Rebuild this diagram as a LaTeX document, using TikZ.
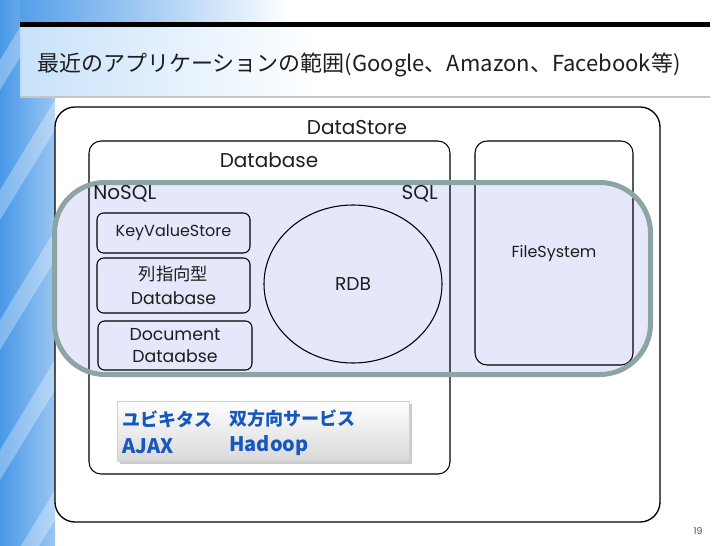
\documentclass[tikz,border=0pt]{standalone}
\usepackage{fontspec}
\setmainfont{Poppins}
\newfontfamily\cjk{Noto Sans CJK JP}
\usepackage{tikz}
\usetikzlibrary{shapes.geometric,shadows}

\definecolor{slideblue}{RGB}{72,152,232}
\definecolor{paleblue}{RGB}{196,224,250}
\definecolor{hilitefill}{RGB}{228,232,250}
\definecolor{hiliteline}{RGB}{140,164,164}
\definecolor{inkgray}{RGB}{30,30,30}
\definecolor{tagblue}{RGB}{22,88,190}

\tikzset{
  storebox/.style={draw=black, line width=1pt, rounded corners=15pt},
  dbbox/.style={draw=black, line width=0.8pt, rounded corners=9pt},
  kindbox/.style={draw=black, line width=0.8pt, rounded corners=5pt, inner sep=0pt, align=center, text=inkgray, font=\fontsize{13}{16}\selectfont},
  lbl/.style={inner sep=0.75pt, text=inkgray, font=\fontsize{15}{18}\selectfont},
  tagtext/.style={anchor=west, inner sep=0pt, text=tagblue, font=\cjk\bfseries\fontsize{13.5}{16}\selectfont},
}

\begin{document}
\begin{tikzpicture}[x=0.75pt,y=0.75pt,yscale=-1,xscale=1]
\useasboundingbox (0,0) rectangle (728,546);
\fill[white] (0,0) rectangle (728,546);
% slide backdrop
\shade[left color=slideblue, right color=white] (0,0) rectangle (290,22);
\shade[left color=paleblue, right color=white] (0,27) rectangle (320,96);
\begin{scope}
  \clip (0,0) rectangle (20,97) (0,97) rectangle (55,546);
  \shade[left color=slideblue, right color=slideblue!55] (0,0) rectangle (55,546);
  \foreach \y in {60,190,320,450,580}
    \fill[white,opacity=0.3] (0,\y) -- (55,\y-90) -- (55,\y-60) -- (0,\y+30) -- cycle;
\end{scope}
\fill[black] (20,22) rectangle (710,27);
\fill[gray!45] (20,95.5) rectangle (710,98);
\node[anchor=west, inner sep=0pt, text=inkgray, font=\cjk\fontsize{16.5}{20}\selectfont] (title) at (37,65) {最近のアプリケーションの範囲(Google、Amazon、Facebook等)};

\draw[storebox, fill=white] (55,107) rectangle (660,522);
\fill[hilitefill, rounded corners=38pt] (54.5,182.5) rectangle (650.5,374.5);
\draw[dbbox] (89,141) rectangle (450,474);
\node[dbbox, minimum width=118.5pt, minimum height=168pt, inner sep=0pt, text=inkgray, font=\fontsize{12}{14}\selectfont] (filesys) at (554,253) {FileSystem};
\node[kindbox, minimum width=114.75pt, minimum height=30pt, font=\fontsize{12}{14}\selectfont] (kvs) at (173.5,233) {KeyValueStore};
\node[kindbox, minimum width=114.75pt, minimum height=41.25pt, font=\fontsize{13}{18}\selectfont] (column) at (173.5,285.5) {{\cjk 列指向型}\\Database};
\node[kindbox, minimum width=115.5pt, minimum height=36.75pt] (document) at (175,345.5) {Document\\Dataabse};
\node[draw=black, line width=0.8pt, ellipse, minimum width=133.5pt, minimum height=118.5pt, inner sep=0pt, text=inkgray, font=\fontsize{14}{16}\selectfont] (rdb) at (353,284) {RDB};
\draw[hiliteline, line width=3.75pt, rounded corners=38pt] (54.5,182.5) rectangle (650.5,374.5);

\node[lbl] (storelbl) at (357,128) {DataStore};
\node[lbl] (dblbl) at (269,160) {Database};
\node[lbl, anchor=west] (nosql) at (92,194) {NoSQL};
\node[lbl, anchor=east] (sql) at (439,194) {SQL};

\node[draw=gray!35, line width=0.5pt, minimum width=219pt, minimum height=45pt, top color=white, bottom color=gray!30, drop shadow={shadow xshift=2pt, shadow yshift=-2pt, opacity=0.4}] (tagbox) at (263,431) {};
\node[tagtext] (ubiq) at (122,419) {ユビキタス};
\node[tagtext] (twoway) at (229,419) {双方向サービス};
\node[tagtext, font=\cjk\bfseries\fontsize{15}{16}\selectfont] (ajax) at (122,446) {AJAX};
\node[tagtext, font=\cjk\bfseries\fontsize{15}{16}\selectfont] (hadoop) at (229,446) {Hadoop};
\node[inner sep=0pt, text=gray!60!black, font=\fontsize{7}{8}\selectfont] (pageno) at (698,531) {19};
\end{tikzpicture}
\end{document}
